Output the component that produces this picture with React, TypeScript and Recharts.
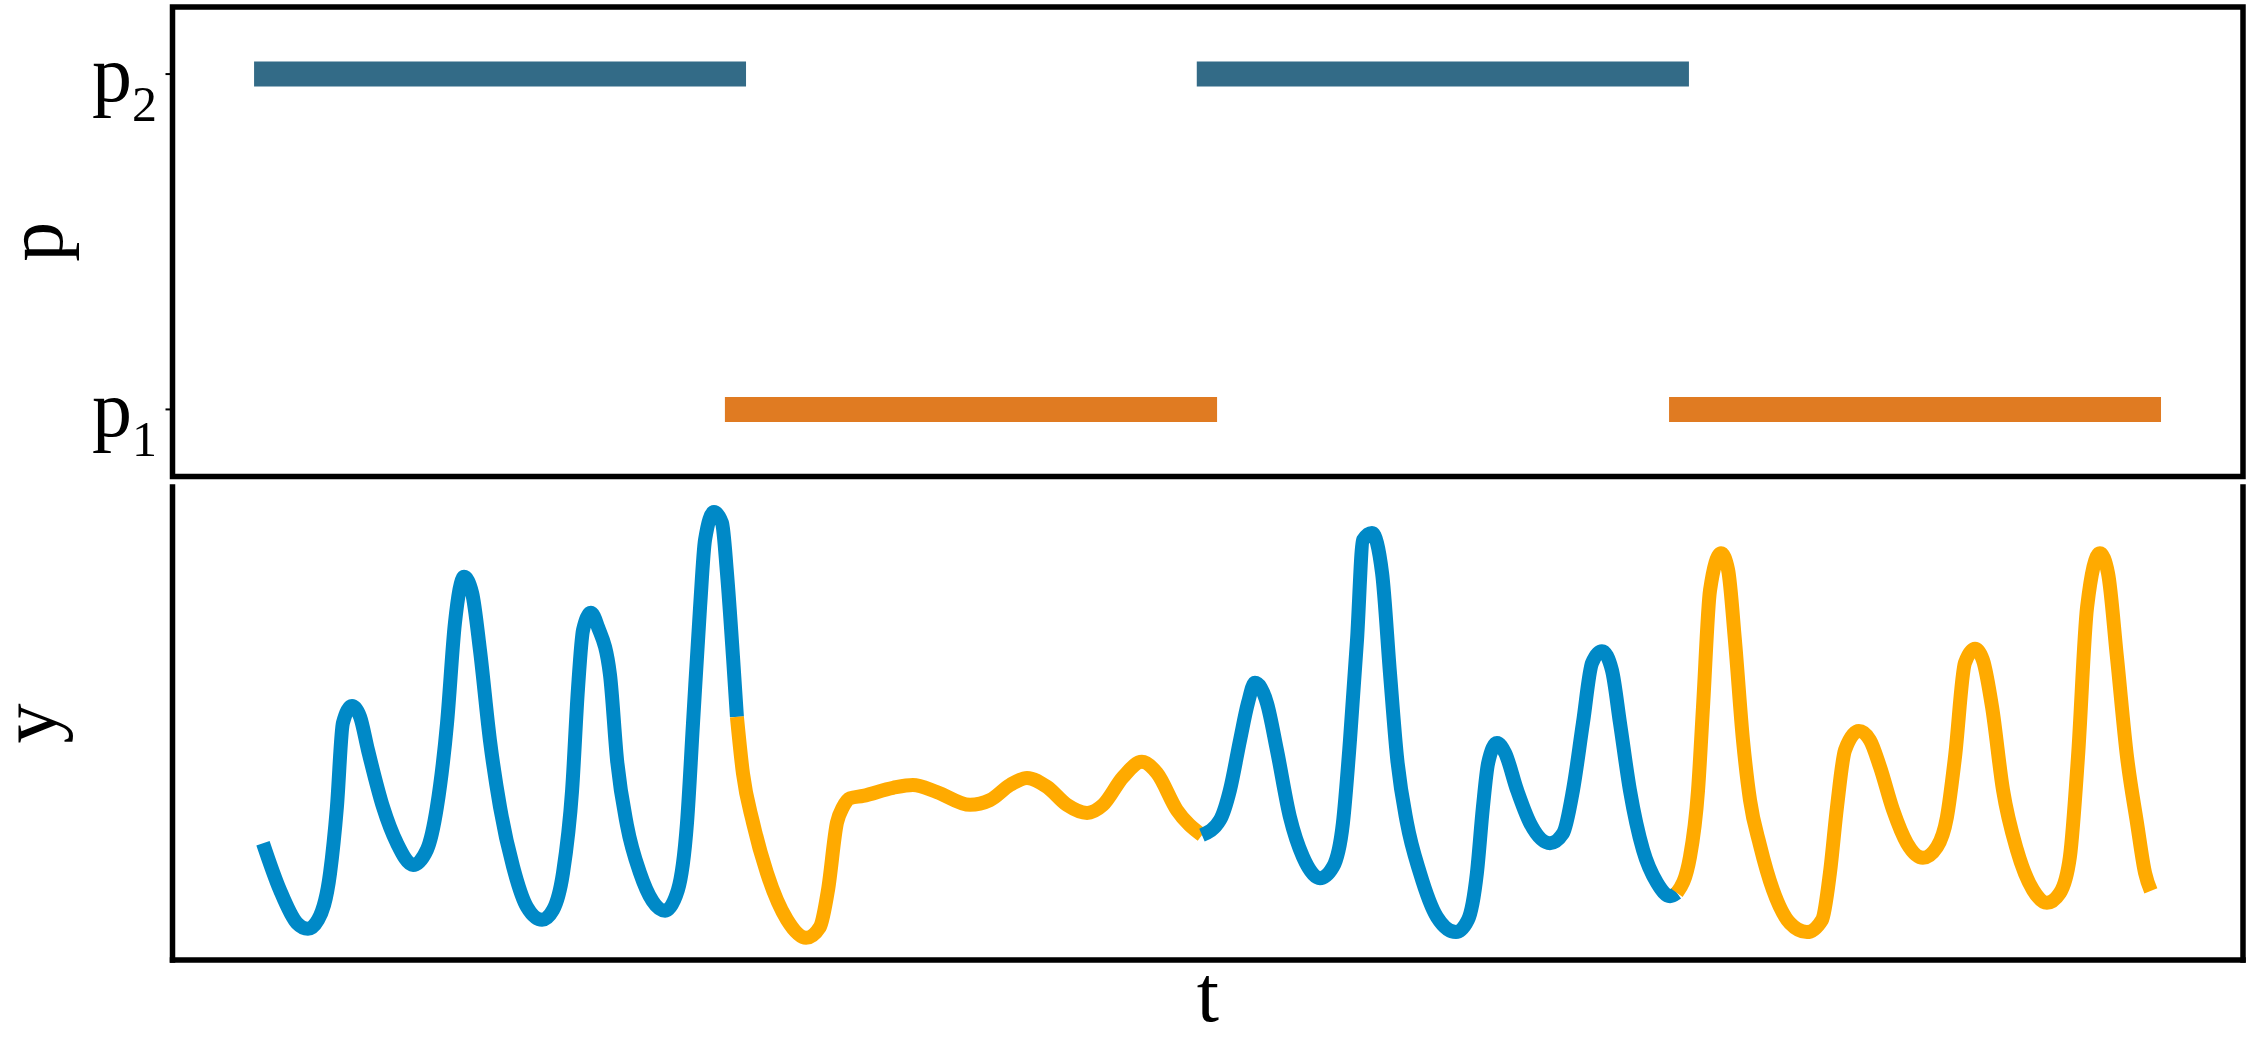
import React from 'react';
import { LineChart, Line, XAxis, YAxis, ReferenceArea, ReferenceLine } from 'recharts';

const FONT = '"Liberation Serif", "Times New Roman", serif';
const BAR_BLUE = '#336B87';
const BAR_ORANGE = '#E07B22';
const LINE_BLUE = '#0089C7';
const LINE_ORANGE = '#FFAA00';

// regime intervals on t (plot spans t = 0..100)
const p2Intervals: [number, number][] = [[3.94, 27.7], [49.47, 73.24]];
const p1Intervals: [number, number][] = [[26.68, 50.45], [72.28, 96.04]];
const pTicks = [1, 2];
const pTickSubs = ['1', '2'];

// y(t), split where the regime switches
const ySeg1: [number, number][] = [
  [4.37, 2.47], [5.19, 1.48], [6.01, 0.78], [6.54, 0.66], [7.03, 0.85], [7.61, 1.84],
  [7.94, 3.23], [8.23, 5.01], [8.67, 5.37], [9.06, 5.14], [9.44, 4.44], [10.17, 3.23],
  [10.84, 2.47], [11.62, 2.01], [12.29, 2.33], [12.77, 3.23], [13.26, 5.01], [13.64, 7.12],
  [14.08, 8.1], [14.47, 7.76], [14.85, 6.55], [15.33, 4.65], [15.82, 3.23], [16.45, 1.97],
  [17.12, 1.12], [17.85, 0.85], [18.38, 1.06], [18.86, 1.84], [19.3, 3.59], [19.58, 5.71],
  [19.83, 6.98], [20.21, 7.34], [20.55, 7.04], [21.13, 6.03], [21.47, 4.23], [21.95, 2.85],
  [22.58, 1.84], [23.79, 1.04], [24.41, 1.48], [24.85, 2.9], [25.14, 5.01], [25.48, 7.46],
  [25.72, 8.88], [26.15, 9.47], [26.54, 9.24], [26.78, 8.18], [27.07, 6.41], [27.26, 5.14],
];
const ySeg2: [number, number][] = [
  [27.26, 5.14], [27.55, 3.95], [28.04, 2.9], [28.71, 1.84], [29.68, 0.85], [30.6, 0.47],
  [31.27, 0.7], [31.66, 1.48], [32.09, 2.9], [32.38, 3.23], [32.72, 3.42], [33.35, 3.47],
  [34.8, 3.64], [35.76, 3.7], [36.92, 3.55], [38.52, 3.28], [39.48, 3.38], [40.45, 3.7],
  [41.27, 3.85], [42.24, 3.66], [43.2, 3.28], [44.17, 3.11], [44.94, 3.28], [45.91, 3.87],
  [46.82, 4.19], [47.55, 3.95], [48.51, 3.17], [49.72, 2.64],
];
const ySeg3: [number, number][] = [
  [49.72, 2.64], [50.59, 2.96], [51.07, 3.59], [51.56, 4.65], [51.94, 5.43], [52.28, 5.86],
  [52.86, 5.43], [53.34, 4.44], [53.97, 3.02], [54.6, 2.18], [55.42, 1.73], [56.05, 1.97],
  [56.53, 2.9], [56.87, 4.65], [57.21, 6.77], [57.5, 8.88], [57.93, 9.03], [58.42, 8.18],
  [58.8, 6.07], [59.14, 4.29], [59.62, 2.9], [60.25, 1.84], [61.07, 0.91], [61.99, 0.59],
  [62.57, 0.85], [63.0, 1.84], [63.29, 3.23], [63.54, 4.16], [63.97, 4.59], [64.36, 4.38],
  [64.94, 3.59], [65.56, 2.9], [66.53, 2.47], [67.16, 2.68], [67.64, 3.59], [68.12, 5.01],
  [68.56, 6.28], [69.04, 6.53], [69.52, 6.13], [69.91, 5.01], [70.39, 3.59], [71.02, 2.33],
  [71.7, 1.63], [72.33, 1.35], [72.66, 1.42],
];
const ySeg4: [number, number][] = [
  [72.66, 1.42], [73.29, 2.18], [73.68, 3.59], [73.92, 5.35], [74.26, 7.82], [74.79, 8.6],
  [75.13, 8.25], [75.46, 6.77], [75.85, 4.65], [76.19, 3.38], [76.67, 2.43], [77.3, 1.48],
  [78.12, 0.78], [78.94, 0.59], [79.67, 0.85], [80.05, 1.84], [80.39, 3.23], [80.78, 4.44],
  [81.45, 4.84], [81.98, 4.65], [82.47, 4.08], [83.1, 3.17], [83.77, 2.47], [84.54, 2.16],
  [85.22, 2.39], [85.7, 3.02], [86.09, 4.29], [86.57, 6.28], [87.06, 6.58], [87.44, 6.34],
  [87.88, 5.35], [88.41, 3.59], [89.08, 2.33], [89.86, 1.48], [90.53, 1.21], [91.16, 1.42],
  [91.64, 2.18], [92.03, 4.29], [92.47, 7.46], [93.09, 8.6], [93.48, 8.18], [93.91, 6.41],
  [94.4, 4.29], [94.88, 2.9], [95.27, 1.84], [95.55, 1.46],
];

const toBarData = (intervals: [number, number][], level: number) => {
  const out: { t: number; p: number | null }[] = [];
  intervals.forEach(([a, b], i) => {
    if (i > 0) out.push({ t: (intervals[i - 1][1] + a) / 2, p: null });
    out.push({ t: a, p: level }, { t: b, p: level });
  });
  return out;
};

const toSeg = (pts: [number, number][]) => pts.map(([t, y]) => ({ t, y }));

const p2Data = toBarData(p2Intervals, 2);
const p1Data = toBarData(p1Intervals, 1);

const PTick = (props: any) => {
  const { x, y, payload } = props;
  const i = pTicks.indexOf(payload.value);
  return (
    <text x={x - 6.5} y={y + 27} textAnchor="end" fontFamily={FONT} fontSize={80} fill="#000">
      p
      <tspan fontSize={50} dy={20}>
        {pTickSubs[i]}
      </tspan>
    </text>
  );
};

// rotated axis title on the left side
const sideLabel = (txt: string, cx: number) => (props: any) => {
  const vb = props.viewBox || {};
  const cy = (vb.y ?? 7) + (vb.height ?? 470) / 2;
  return (
    <text
      x={cx}
      y={cy}
      transform={`rotate(-90 ${cx} ${cy})`}
      textAnchor="middle"
      fontFamily={FONT}
      fontSize={80}
      fill="#000"
    >
      {txt}
    </text>
  );
};

const bottomLabel = (props: any) => {
  const vb = props.viewBox || {};
  return (
    <text
      x={(vb.x ?? 172.5) + (vb.width ?? 2070) / 2}
      y={(vb.y ?? 480) + 61}
      textAnchor="middle"
      fontFamily={FONT}
      fontSize={80}
      fill="#000"
    >
      t
    </text>
  );
};

const frameLine = { stroke: '#000', strokeWidth: 5.5, strokeLinecap: 'square' as const };

export default function App() {
  return (
    <div style={{ position: 'absolute', left: 0, top: 0, width: 2250, height: 1050, background: '#fff' }}>
      <div style={{ position: 'absolute', left: 0, top: 0 }}>
        <LineChart width={2250} height={490} margin={{ top: 7, right: 7, bottom: 13.5, left: 0 }}>
          <XAxis type="number" dataKey="t" domain={[0, 100]} hide />
          <YAxis
            type="number"
            domain={[0.8, 2.2]}
            ticks={pTicks}
            interval={0}
            width={172.5}
            axisLine={false}
            tickSize={7}
            tickLine={{ stroke: '#000', strokeWidth: 2 }}
            tick={(p: any) => <PTick {...p} />}
            label={sideLabel('p', 62)}
          />
          <Line
            data={p2Data}
            dataKey="p"
            type="linear"
            stroke={BAR_BLUE}
            strokeWidth={25}
            dot={false}
            activeDot={false}
            isAnimationActive={false}
          />
          <Line
            data={p1Data}
            dataKey="p"
            type="linear"
            stroke={BAR_ORANGE}
            strokeWidth={25}
            dot={false}
            activeDot={false}
            isAnimationActive={false}
          />
          <ReferenceArea x1={0} x2={100} y1={0.8} y2={2.2} fill="none" stroke="#000" strokeWidth={5.5} />
        </LineChart>
      </div>
      <div style={{ position: 'absolute', left: 0, top: 480 }}>
        <LineChart width={2250} height={570} margin={{ top: 7, right: 7, bottom: 0, left: 0 }}>
          <XAxis
            type="number"
            dataKey="t"
            domain={[0, 100]}
            height={90}
            tick={false}
            tickLine={false}
            axisLine={frameLine}
            label={bottomLabel}
          />
          <YAxis
            type="number"
            domain={[0, 10]}
            width={172.5}
            tick={false}
            tickLine={false}
            axisLine={frameLine}
            label={sideLabel('y', 56)}
          />
          <ReferenceLine x={100} stroke="#000" strokeWidth={5.5} strokeLinecap="square" />
          {[ySeg1, ySeg2, ySeg3, ySeg4].map((seg, i) => (
            <Line
              key={i}
              data={toSeg(seg)}
              dataKey="y"
              type="monotone"
              stroke={i % 2 === 0 ? LINE_BLUE : LINE_ORANGE}
              strokeWidth={14}
              strokeLinejoin="round"
              dot={false}
              activeDot={false}
              isAnimationActive={false}
            />
          ))}
        </LineChart>
      </div>
    </div>
  );
}
